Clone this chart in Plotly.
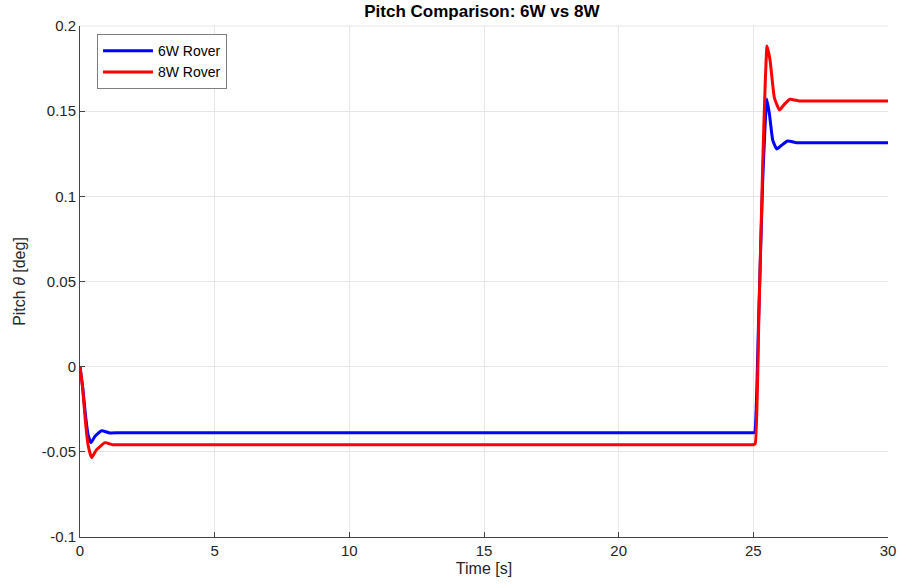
import plotly.graph_objects as go

# 6W rover key points (time [s], pitch [deg])
t_6w = [0.0, 0.1, 0.2, 0.3, 0.41, 0.55, 0.8, 1.1, 1.5, 5.0, 10.0, 15.0, 20.0, 24.9, 25.0, 25.05,
        25.2, 25.35, 25.5, 25.6, 25.72, 25.87, 26.05, 26.27, 26.6, 27.0, 30.0]
p_6w = [0.0, -0.012, -0.028, -0.040, -0.0446, -0.041, -0.0376, -0.0389, -0.0388, -0.0388,
        -0.0388, -0.0388, -0.0388, -0.0388, -0.0388, -0.0386,
        0.030, 0.110, 0.1572, 0.148, 0.133, 0.1278, 0.130, 0.1325, 0.1315, 0.1315, 0.1315]

# 8W rover key points
t_8w = [0.0, 0.1, 0.2, 0.3, 0.43, 0.6, 0.93, 1.2, 1.6, 5.0, 10.0, 15.0, 20.0, 24.9, 25.0, 25.07,
        25.2, 25.35, 25.51, 25.62, 25.78, 25.97, 26.15, 26.36, 26.7, 27.0, 30.0]
p_8w = [0.0, -0.013, -0.032, -0.046, -0.0534, -0.049, -0.0446, -0.0458, -0.0458, -0.0458,
        -0.0458, -0.0458, -0.0458, -0.0458, -0.0458, -0.0452,
        0.025, 0.120, 0.1882, 0.180, 0.158, 0.1507, 0.154, 0.1570, 0.1560, 0.1560, 0.1560]

y_ticks = [-0.1, -0.05, 0, 0.05, 0.1, 0.15, 0.2]
y_labels = ["-0.1", "-0.05", "0", "0.05", "0.1", "0.15", "0.2"]
x_ticks = [0, 5, 10, 15, 20, 25, 30]

font_fam = "Liberation Sans, Arial, sans-serif"

fig = go.Figure()
fig.add_trace(go.Scatter(x=t_6w, y=p_6w, mode="lines", name="6W Rover",
                         line=dict(color="#0000ff", width=3, shape="spline", smoothing=0.4)))
fig.add_trace(go.Scatter(x=t_8w, y=p_8w, mode="lines", name="8W Rover",
                         line=dict(color="#ff0000", width=3, shape="spline", smoothing=0.4)))

fig.update_layout(
    width=900, height=584,
    margin=dict(l=80, r=12, t=26, b=47),
    paper_bgcolor="white", plot_bgcolor="white",
    font=dict(family=font_fam, size=15, color="#262626"),
    title=dict(text="<b>Pitch Comparison: 6W vs 8W</b>", x=0.5354, xanchor="center",
               y=0.992, yanchor="top", font=dict(size=17, color="#000000")),
    showlegend=True,
    legend=dict(x=0.021, y=0.984, xanchor="left", yanchor="top",
                bgcolor="white", bordercolor="#7f7f7f", borderwidth=1,
                font=dict(size=14, color="#000000"), tracegroupgap=0,
                itemwidth=50),
    xaxis=dict(range=[0, 30], tickvals=x_ticks, showgrid=True, gridcolor="#e6e6e6",
               zeroline=False, showline=True, linecolor="#444444", linewidth=1,
               ticks="inside", ticklen=5, tickcolor="#444444", mirror=False,
               automargin=False,
               title=dict(text="Time [s]", font=dict(size=16, color="#262626"), standoff=4)),
    yaxis=dict(range=[-0.1, 0.2], tickvals=y_ticks, ticktext=y_labels, showgrid=True,
               gridcolor="#e6e6e6", zeroline=False, showline=True, linecolor="#444444",
               linewidth=1, ticks="inside", ticklen=5, tickcolor="#444444",
               automargin=False,
               title=dict(text="Pitch <i>θ</i> [deg]", font=dict(size=16, color="#262626"),
                          standoff=12)),
)
# light top edge like MATLAB grid
fig.add_shape(type="line", xref="paper", yref="paper", x0=0, x1=1, y0=1, y1=1,
              line=dict(color="#e6e6e6", width=1), layer="below")

fig.write_html("out.html")
